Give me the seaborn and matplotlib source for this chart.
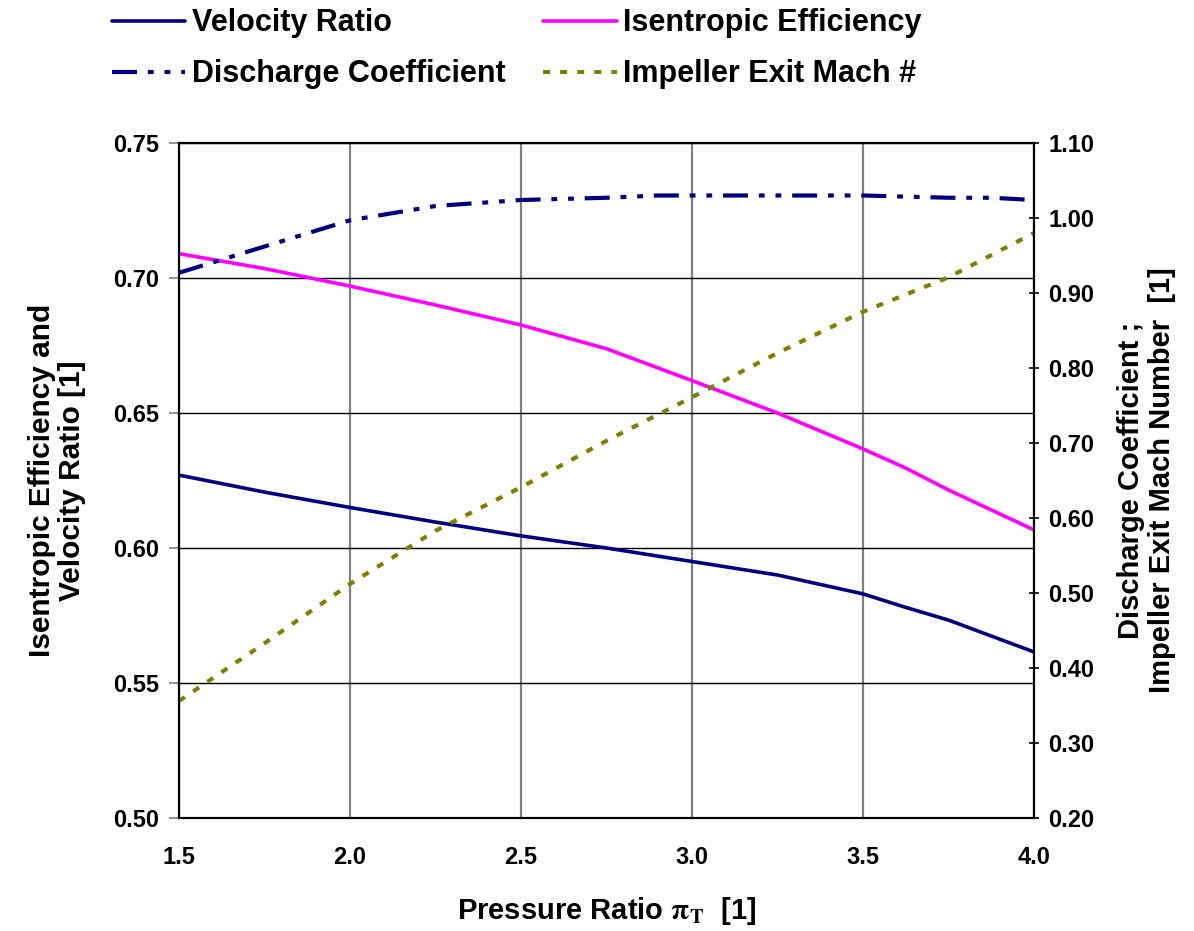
import numpy as np
import pandas as pd
import matplotlib
matplotlib.use("Agg")
import matplotlib.pyplot as plt
import seaborn as sns

# ---- data ----
pressure_ratio = [1.5, 1.75, 2.0, 2.25, 2.5, 2.75, 3.0, 3.25, 3.5, 3.625, 3.75, 4.0]
velocity_ratio = [0.627, 0.6207, 0.615, 0.6096, 0.6045, 0.600, 0.595, 0.590, 0.583, 0.578, 0.5733, 0.5615]
isentropic_eff = [0.709, 0.7035, 0.697, 0.690, 0.6826, 0.6738, 0.662, 0.650, 0.6367, 0.6296, 0.6215, 0.6067]

dc_pressure_ratio = [1.5, 1.75, 2.0, 2.25, 2.5, 2.75, 2.9, 3.0, 3.5, 3.75, 3.875, 4.0]
discharge_coeff = [0.927, 0.962, 0.997, 1.016, 1.024, 1.027, 1.030, 1.030, 1.030, 1.027, 1.027, 1.024]

mach_pressure_ratio = [1.5, 1.75, 2.0, 2.25, 2.5, 2.75, 3.0, 3.25, 3.5, 3.75, 4.0]
impeller_mach = [0.356, 0.433, 0.512, 0.583, 0.641, 0.703, 0.761, 0.820, 0.875, 0.921, 0.980]

x_ticks = [1.5, 2.0, 2.5, 3.0, 3.5, 4.0]
left_ticks = [0.50, 0.55, 0.60, 0.65, 0.70, 0.75]
right_ticks = [0.20, 0.30, 0.40, 0.50, 0.60, 0.70, 0.80, 0.90, 1.00, 1.10]

labels = ["Velocity Ratio", "Isentropic Efficiency", "Discharge Coefficient", "Impeller Exit Mach #"]

# ---- style ----
sns.set_theme(style="white")
plt.rcParams["font.family"] = ["Liberation Sans", "DejaVu Sans"]
plt.rcParams["font.weight"] = "bold"
plt.rcParams["mathtext.fontset"] = "stix"
plt.rcParams["text.color"] = "black"
plt.rcParams["axes.labelcolor"] = "black"
plt.rcParams["xtick.color"] = "black"
plt.rcParams["ytick.color"] = "black"

fig = plt.figure(figsize=(11.94, 9.31), dpi=100)
ax = fig.add_axes([179 / 1194, 1 - 818 / 931, (1034 - 179) / 1194, (818 - 143) / 931])
ax2 = ax.twinx()

df_main = pd.DataFrame({"pr": pressure_ratio, "vr": velocity_ratio, "ie": isentropic_eff})
df_dc = pd.DataFrame({"pr": dc_pressure_ratio, "dc": discharge_coeff})
df_m = pd.DataFrame({"pr": mach_pressure_ratio, "m": impeller_mach})

sns.lineplot(data=df_main, x="pr", y="vr", ax=ax, color="#000080", lw=2.6, label=labels[0], legend=False)
sns.lineplot(data=df_main, x="pr", y="ie", ax=ax, color="#FF00FF", lw=2.6, label=labels[1], legend=False)
sns.lineplot(data=df_dc, x="pr", y="dc", ax=ax2, color="#000080", lw=3.0,
             linestyle=(0, (6, 2.6, 1.4, 2.6, 1.4, 2.6)), label=labels[2], legend=False)
sns.lineplot(data=df_m, x="pr", y="m", ax=ax2, color="#808000", lw=3.0,
             linestyle=(0, (1.7, 2.4)), label=labels[3], legend=False)

ax.set_xlim(1.5, 4.0)
ax.set_ylim(0.50, 0.75)
ax2.set_ylim(0.20, 1.10)
ax.set_xticks(x_ticks)
ax.set_xticklabels([f"{v:.1f}" for v in x_ticks])
ax.set_yticks(left_ticks)
ax.set_yticklabels([f"{v:.2f}" for v in left_ticks])
ax2.set_yticks(right_ticks)
ax2.set_yticklabels([f"{v:.2f}" for v in right_ticks])

ax.grid(True, axis="y", color="black", lw=1.0)
ax.grid(True, axis="x", color="#808080", lw=1.6)
ax2.grid(False)
ax.set_axisbelow(True)

for a in (ax, ax2):
    for s in a.spines.values():
        s.set_color("black")
        s.set_linewidth(1.5)

ax.tick_params(axis="both", which="major", labelsize=17, length=7, width=1.2,
               color="#808080", labelcolor="black", pad=7, direction="out")
ax.tick_params(axis="x", length=0, pad=20)
ax2.tick_params(axis="y", labelsize=17, length=7, width=1.2, color="black",
                labelcolor="black", direction="inout", pad=7)
for lab in ax.get_xticklabels() + ax.get_yticklabels() + ax2.get_yticklabels():
    lab.set_fontweight("bold")

ax.set_xlabel(r"Pressure Ratio $\mathrm{\pi}_{\mathsf{T}}$  [1]", fontsize=21, fontweight="bold",
              labelpad=19, color="black")
ax.set_ylabel("Isentropic Efficiency and\nVelocity Ratio [1]", fontsize=21.5, fontweight="bold",
              labelpad=20, linespacing=1.1, color="black")
ax2.set_ylabel("Discharge Coefficient ;\nImpeller Exit Mach Number  [1]", fontsize=21,
               fontweight="bold", labelpad=16, linespacing=1.15, color="black")

h1, l1 = ax.get_legend_handles_labels()
h2, l2 = ax2.get_legend_handles_labels()
handles = [h1[0], h2[0], h1[1], h2[1]]
leg_labels = [l1[0], l2[0], l1[1], l2[1]]
leg = fig.legend(handles, leg_labels, loc="upper left", bbox_to_anchor=(84 / 1194, 1 + 19 / 931),
                 ncol=2, frameon=False, handlelength=2.4, handletextpad=0.22,
                 columnspacing=1.25, labelspacing=0.68, prop={"weight": "bold", "size": 22})
for t in leg.get_texts():
    t.set_color("black")

fig.savefig("out.png", dpi=100)
